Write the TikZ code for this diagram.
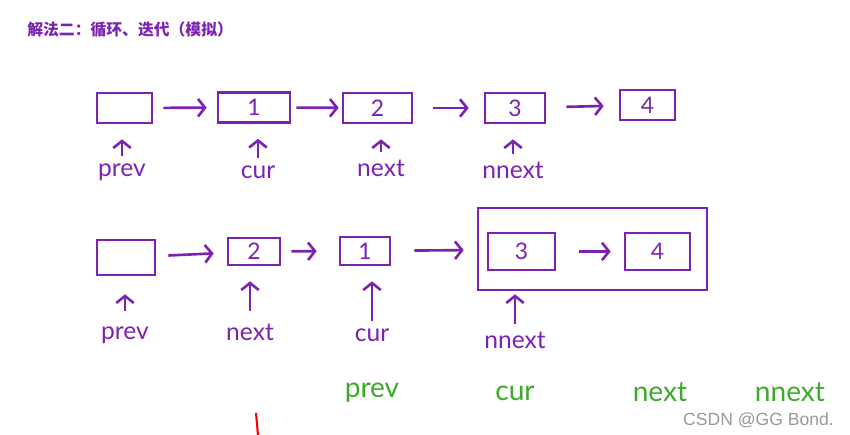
\documentclass[tikz,border=0pt]{standalone}
\usepackage{fontspec}
\usepackage{xcolor}
\usepackage{tikz}
\usetikzlibrary{arrows.meta,positioning,calc}
\setmainfont{Lato}
\setsansfont{Liberation Sans}
\newfontfamily\cjk{Noto Sans CJK SC}
\definecolor{pen}{HTML}{7B22B0}
\definecolor{penGreen}{HTML}{3DAA2A}

\begin{document}
\begin{tikzpicture}[
  x=0.02cm, y=-0.02cm,
  cell/.style={rectangle, draw=pen, line width=1.5pt, minimum height=0.6cm,
               inner sep=0pt, text=pen, font=\fontsize{13}{15}\selectfont},
  group/.style={rectangle, draw=pen, line width=1.5pt, inner sep=0pt},
  link/.style={draw=pen, line width=1.5pt, -{Straight Barb[length=4pt,width=10pt]},
               shorten <=0.2cm, shorten >=0.2cm},
  ptr/.style={draw=pen, line width=1.5pt, -{Straight Barb[length=4pt,width=10pt]},
              shorten <=0.15cm, shorten >=0.3cm},
  lbl/.style={text=pen, font=\fontsize{14}{16}\selectfont, inner sep=0pt},
  note/.style={text=penGreen, font=\fontsize{16}{18}\selectfont, inner sep=0pt}
]
  \useasboundingbox (0,0) rectangle (850,435);

  \node[anchor=west, inner sep=0pt, text=pen, font=\cjk\bfseries\fontsize{9}{11}\selectfont]
       (title) at (27,30) {解法二：循环、迭代（模拟）};

  % first row
  \node[cell, minimum width=1.1cm]  (a0) at (124.5,108) {};
  \node[cell, minimum width=1.44cm] (a1) at (254,107.5) {1};
  \node[cell, minimum width=1.38cm] (a2) at (377.5,108) {2};
  \node[cell, minimum width=1.2cm]  (a3) at (515,108)   {3};
  \node[cell, minimum width=1.1cm]  (a4) at (647.5,105) {4};

  \draw[link] (a0) -- (a1);
  \draw[link, shorten <=0.1cm, shorten >=0.06cm] (a1) -- (a2);
  \draw[link, shorten <=0.4cm, shorten >=0.3cm] (a2) -- (a3);
  \draw[link, shorten <=0.4cm, shorten >=0.3cm] (a3) -- (a4);

  \node[lbl] (ap) at (122,172) {prev};
  \node[lbl] (ac) at (258,172) {cur};
  \node[lbl] (an) at (381,168) {next};
  \node[lbl] (ann) at (513,170) {nnext};

  \draw[ptr] (ap.north) -- (ap.north |- a0.south);
  \draw[ptr] (ac.north) -- (ac.north |- a1.south);
  \draw[ptr] (an.north) -- (an.north |- a2.south);
  \draw[ptr] (ann.north) -- (ann.north |- a3.south);

  % second row
  \node[cell, minimum width=1.16cm, minimum height=0.7cm] (b0) at (126,257.5) {};
  \node[cell, minimum width=1.04cm, minimum height=0.54cm] (b2) at (254,251.5) {2};
  \node[cell, minimum width=1.0cm, minimum height=0.56cm]  (b1) at (365,251)   {1};
  \node[group, minimum width=4.58cm, minimum height=1.64cm] (bg) at (592.5,249) {};
  \node[cell, minimum width=1.34cm, minimum height=0.74cm] (b3) at (521.5,251.5) {3};
  \node[cell, minimum width=1.3cm, minimum height=0.74cm]  (b4) at (657.5,251.5) {4};

  \draw[link, shorten <=0.24cm, shorten >=0.26cm] (b0) -- (b2);
  \draw[link, shorten <=0.2cm, shorten >=0.44cm] (b2) -- (b1);
  \draw[link, shorten <=0.46cm, shorten >=0.26cm] (b1) -- (bg);
  \draw[link, shorten <=0.46cm, shorten >=0.26cm] (b3) -- (b4);

  \node[lbl] (bp) at (125,335) {prev};
  \node[lbl] (bn) at (250,332) {next};
  \node[lbl] (bc) at (372,335) {cur};
  \node[lbl] (bnn) at (515,340) {nnext};

  \draw[ptr, shorten <=0.3cm, shorten >=0.36cm] (bp.north) -- (bp.north |- b0.south);
  \draw[ptr, shorten <=0.25cm] (bn.north) -- (bn.north |- b2.south);
  \draw[ptr] (bc.north) -- (bc.north |- b1.south);
  \draw[ptr, shorten >=0.46cm] (bnn.north) -- (bnn.north |- b3.south);

  % renamed pointers
  \node[note] (gp) at (372,393) {prev};
  \node[note] (gc) at (515,393) {cur};
  \node[note] (gn) at (660,392) {next};
  \node[note] (gnn) at (790,392) {nnext};

  \draw[red, line width=1.2pt] (256,413) -- (258,435);

  \node[anchor=east, text=black!40, font=\sffamily\fontsize{10}{12}\selectfont]
       (mark) at (840,420) {CSDN @GG Bond.};
\end{tikzpicture}
\end{document}
